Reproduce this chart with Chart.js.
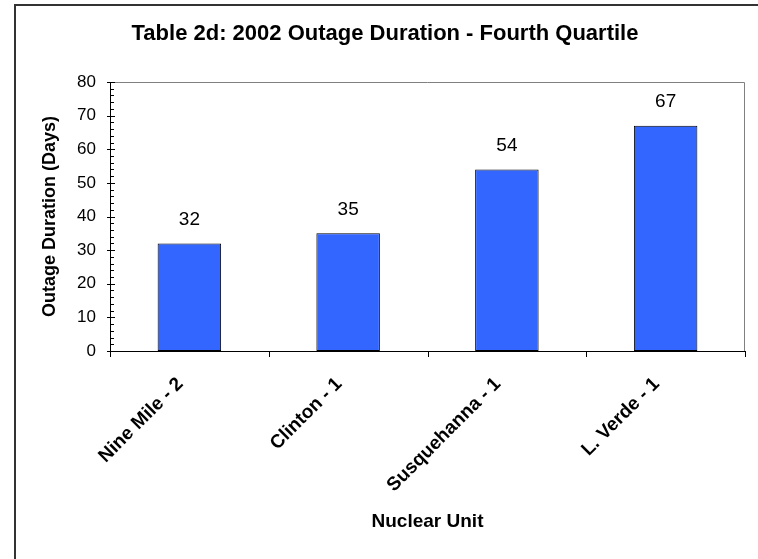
<!DOCTYPE html>
<html>
<head>
<meta charset="utf-8">
<script src="https://cdn.jsdelivr.net/npm/chart.js@4.4.1/dist/chart.umd.min.js"></script>
<style>
  html, body { margin: 0; padding: 0; background: #fff; }
  #wrap { width: 758px; height: 559px; position: relative; }
</style>
</head>
<body>
<div id="wrap"><canvas id="grafico" width="758" height="559"></canvas></div>
<script>
// dados do gráfico
const unidades = ['Nine Mile - 2', 'Clinton - 1', 'Susquehanna - 1', 'L. Verde - 1'];
const duracoes = [32, 35, 54, 67];
const tituloGrafico = 'Table 2d: 2002 Outage Duration - Fourth Quartile';
const tituloEixoY = 'Outage Duration (Days)';
const tituloEixoX = 'Nuclear Unit';

const FONTE = '"Liberation Sans", Arial, sans-serif';

// moldura, borda da área do gráfico, marcas dos eixos, rótulos e título
const extras = {
    id: 'extras',
    beforeDatasetsDraw(chart) {
        const {ctx, chartArea: a} = chart;
        ctx.save();
        ctx.strokeStyle = '#808080';
        ctx.lineWidth = 1;
        ctx.beginPath();
        ctx.moveTo(a.left, a.top + 0.5);
        ctx.lineTo(a.right - 0.5, a.top + 0.5);
        ctx.lineTo(a.right - 0.5, a.bottom);
        ctx.stroke();
        ctx.restore();
    },
    afterDraw(chart) {
        const {ctx, chartArea: a, scales} = chart;
        const y = scales.y, x = scales.x;
        ctx.save();

        // moldura externa
        ctx.strokeStyle = '#333333';
        ctx.lineWidth = 2;
        ctx.beginPath();
        ctx.moveTo(15, 559);
        ctx.lineTo(15, 5);
        ctx.lineTo(758, 5);
        ctx.stroke();

        // marcas do eixo y (maiores cruzando, menores para dentro)
        ctx.strokeStyle = '#000';
        ctx.lineWidth = 1;
        ctx.beginPath();
        for (let v = 0; v <= 80; v += 2) {
            const py = Math.round(y.getPixelForValue(v)) + 0.5;
            if (v % 10 === 0) {
                ctx.moveTo(a.left - 3, py);
                ctx.lineTo(a.left + 5, py);
            } else {
                ctx.moveTo(a.left, py);
                ctx.lineTo(a.left + 4, py);
            }
        }
        // marcas do eixo x entre categorias
        const meio = (x.getPixelForValue(1) - x.getPixelForValue(0)) / 2;
        for (let i = 0; i <= unidades.length; i++) {
            const px = Math.round(x.getPixelForValue(i) - meio) + 0.5;
            ctx.moveTo(px, a.bottom);
            ctx.lineTo(px, a.bottom + 6);
        }
        ctx.stroke();

        // valores acima das barras
        ctx.fillStyle = '#000';
        ctx.font = '19px ' + FONTE;
        ctx.textAlign = 'center';
        ctx.textBaseline = 'middle';
        chart.getDatasetMeta(0).data.forEach((bar, i) => {
            ctx.fillText(String(duracoes[i]), bar.x, bar.y - 24);
        });

        // título
        ctx.font = 'bold 22px ' + FONTE;
        ctx.fillText(tituloGrafico, 385, 34);
        ctx.restore();
    }
};

const ctx = document.getElementById('grafico').getContext('2d');
new Chart(ctx, {
    type: 'bar',
    data: {
        labels: unidades,
        datasets: [{
            data: duracoes,
            backgroundColor: '#3366FF',
            borderColor: '#000000',
            borderWidth: 1,
            borderSkipped: false,
            categoryPercentage: 1,
            barPercentage: 0.40
        }]
    },
    options: {
        responsive: false,
        animation: false,
        layout: {padding: {left: 15, top: 82, right: 13, bottom: 0}},
        plugins: {
            legend: {display: false},
            title: {display: false},
            tooltip: {enabled: false}
        },
        scales: {
            y: {
                min: 0,
                max: 80,
                afterFit: s => { s.width = 95; },
                ticks: {
                    stepSize: 10,
                    color: '#000',
                    padding: 14,
                    font: {family: FONTE, size: 17}
                },
                grid: {display: false, drawTicks: false},
                border: {display: true, color: '#000', width: 1},
                title: {
                    display: true,
                    text: tituloEixoY,
                    color: '#000',
                    font: {family: FONTE, size: 18, weight: 'bold'},
                    padding: {top: 24, bottom: 0}
                }
            },
            x: {
                afterFit: s => { s.height = 208; },
                ticks: {
                    color: '#000',
                    minRotation: 45,
                    maxRotation: 45,
                    padding: 22,
                    labelOffset: -9,
                    autoSkip: false,
                    font: {family: FONTE, size: 19, weight: 'bold'}
                },
                grid: {display: false, drawTicks: false},
                border: {display: true, color: '#000', width: 1},
                title: {
                    display: true,
                    text: tituloEixoX,
                    color: '#000',
                    font: {family: FONTE, size: 19, weight: 'bold'},
                    padding: {top: 0, bottom: 26}
                }
            }
        }
    },
    plugins: [extras]
});
</script>
</body>
</html>
